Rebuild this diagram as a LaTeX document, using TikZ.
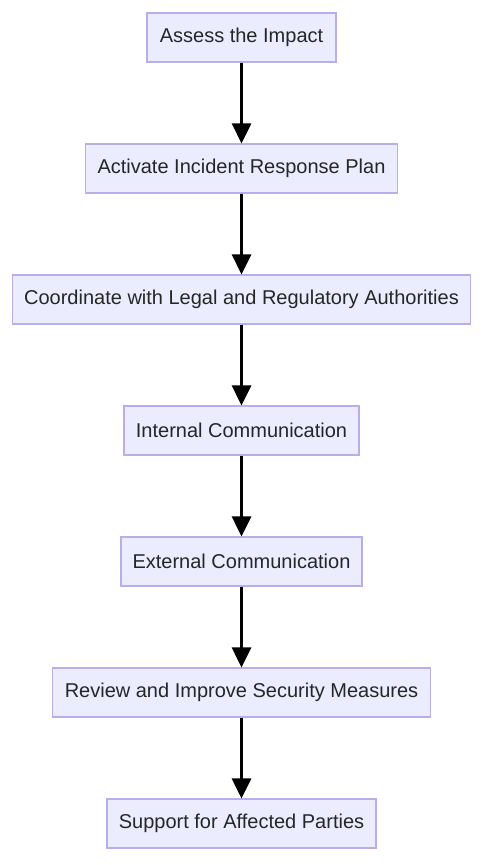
\documentclass[tikz,border=0pt]{standalone}
\usepackage{fontspec}
\setmainfont{Liberation Sans}
\usetikzlibrary{arrows.meta}
\definecolor{boxfill}{HTML}{ECECFF}
\definecolor{boxline}{HTML}{B8AEEA}
\tikzset{
  stepbox/.style={draw=boxline, fill=boxfill, line width=1.2pt, minimum height=49pt,
    inner xsep=0pt, font=\fontsize{20}{23}\selectfont, text=black!85},
  flow/.style={line width=3pt, -{Triangle[length=20pt,width=19pt]}}
}
\begin{document}
\begin{tikzpicture}[x=1pt,y=1pt]
\useasboundingbox (0,0) rectangle (485,-865);
\node[stepbox, minimum width=189pt] (a) at (241.5,-37.5) {Assess the Impact};
\node[stepbox, minimum width=312pt] (b) at (241.5,-168.5) {Activate Incident Response Plan};
\node[stepbox, minimum width=458pt] (c) at (241.5,-299.5) {Coordinate with Legal and Regulatory Authorities};
\node[stepbox, minimum width=235pt] (d) at (241.5,-430.5) {Internal Communication};
\node[stepbox, minimum width=241pt] (e) at (241.5,-561.5) {External Communication};
\node[stepbox, minimum width=378pt] (f) at (241.5,-692.5) {Review and Improve Security Measures};
\node[stepbox, minimum width=269pt] (g) at (241.5,-823.5) {Support for Affected Parties};
\draw[flow] (a) -- (b);
\draw[flow] (b) -- (c);
\draw[flow] (c) -- (d);
\draw[flow] (d) -- (e);
\draw[flow] (e) -- (f);
\draw[flow] (f) -- (g);
\end{tikzpicture}
\end{document}
